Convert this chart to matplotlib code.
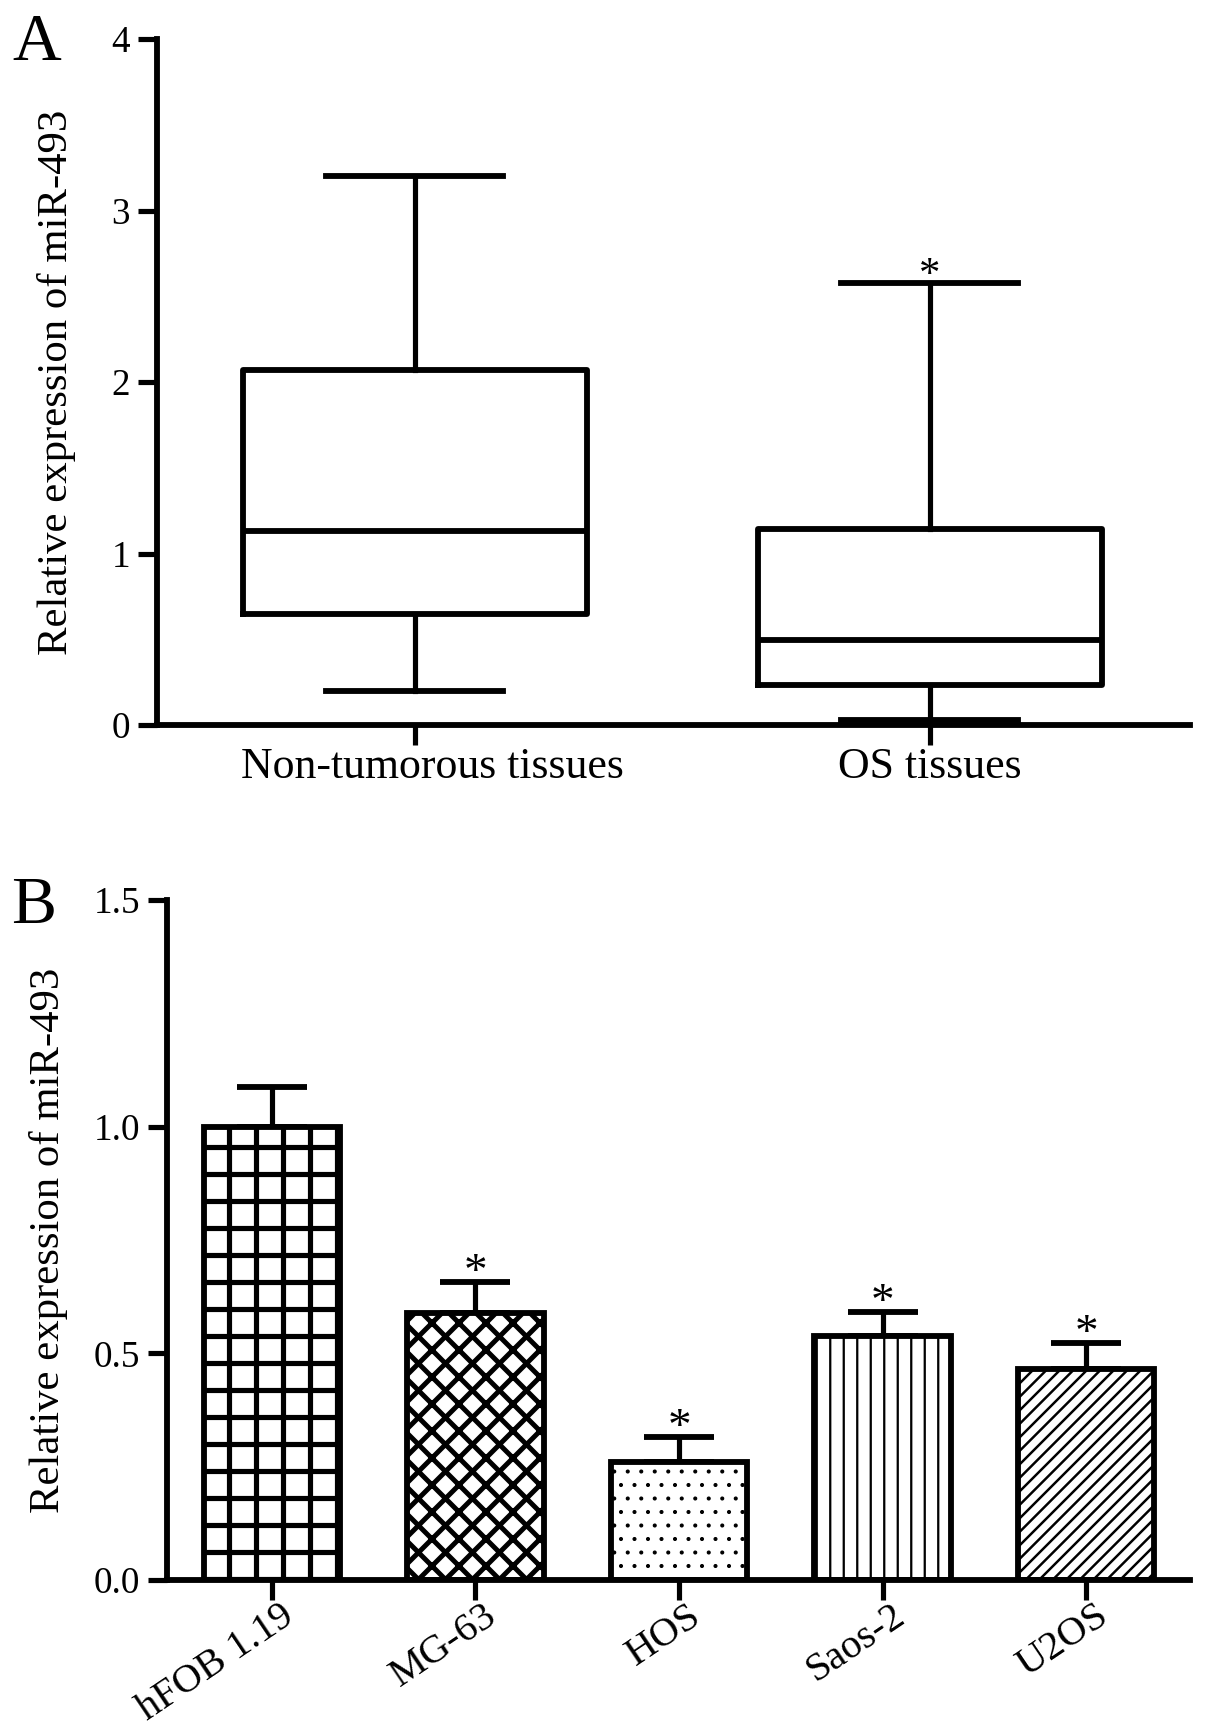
import matplotlib
matplotlib.use("Agg")
import matplotlib.pyplot as plt
import matplotlib.transforms as mtransforms

plt.rcParams['font.family'] = ['Liberation Serif', 'DejaVu Serif']

# panel A: box plot summaries
groups_a = ["Non-tumorous tissues", "OS tissues"]
whisker_low = [0.20, 0.03]
q1 = [0.65, 0.234]
median = [1.13, 0.495]
q3 = [2.07, 1.145]
whisker_high = [3.20, 2.575]
star_a = [False, True]

# panel B: bars with upper error
cells = ["hFOB 1.19", "MG-63", "HOS", "Saos-2", "U2OS"]
expr = [1.0, 0.59, 0.26, 0.539, 0.466]
err = [0.088, 0.068, 0.056, 0.053, 0.057]
star_b = [False, True, True, True, True]

hatches = ['+', 'xx', '..', '||', '////']
hatch_lw = [2.3, 2.2, 0.6, 1.0, 1.1]

DPI = 162
fig = plt.figure(figsize=(1205 / DPI, 1734 / DPI), dpi=DPI)

LW = 2.6

def style_axes(ax):
    for s in ['top', 'right']:
        ax.spines[s].set_visible(False)
    for s in ['left', 'bottom']:
        ax.spines[s].set_linewidth(LW)
    ax.tick_params(axis='both', direction='out', length=8.5, width=2.3, labelsize=16.5)

# ---------- A ----------
axA = fig.add_axes([157 / 1205, 1 - 725 / 1734, (1190 - 157) / 1205, (725 - 39) / 1734])
stats = []
for i in range(len(groups_a)):
    stats.append(dict(whislo=whisker_low[i], q1=q1[i], med=median[i],
                      q3=q3[i], whishi=whisker_high[i], fliers=[]))
lp = dict(color='black', linewidth=LW)
axA.bxp(stats, positions=[0, 1], widths=0.668, capwidths=0.344, showfliers=False,
        boxprops=lp, medianprops=lp, whiskerprops=dict(color='black', linewidth=2.3),
        capprops=lp)
axA.set_xlim(-0.5, 1.505)
axA.set_ylim(0, 4)
axA.set_yticks([0, 1, 2, 3, 4])
axA.set_xticks([0, 1])
axA.set_xticklabels(groups_a, fontsize=19.5)
style_axes(axA)
axA.tick_params(axis='x', labelsize=19.5, pad=1, length=9)
# first label sits a little right of its tick in the original
first = axA.get_xticklabels()[0]
first.set_transform(first.get_transform()
                    + mtransforms.ScaledTranslation(18 / DPI, 0, fig.dpi_scale_trans))
axA.set_ylabel("Relative expression of miR-493", fontsize=19)
axA.yaxis.set_label_coords(-0.078, 0.5)
for i in range(len(groups_a)):
    if star_a[i]:
        axA.annotate('*', (i, whisker_high[i]), xytext=(0, -1), textcoords='offset points',
                     ha='center', va='baseline', fontsize=19)

# ---------- B ----------
axB = fig.add_axes([167 / 1205, 1 - 1580 / 1734, (1190 - 167) / 1205, (1580 - 900) / 1734])
x = list(range(len(cells)))
for i in x:
    with plt.rc_context({'hatch.linewidth': hatch_lw[i]}):
        axB.bar(x[i], expr[i], width=0.67, color='white', edgecolor='black',
                linewidth=LW, hatch=hatches[i], zorder=2)
axB.errorbar(x, expr, yerr=[[0] * len(err), err], fmt='none', ecolor='black',
             elinewidth=2.3, capsize=15.5, capthick=LW, zorder=1)
for i in x:
    if star_b[i]:
        axB.annotate('*', (x[i], expr[i] + err[i]), xytext=(0, -1.5), textcoords='offset points',
                     ha='center', va='baseline', fontsize=21)
axB.set_xlim(-0.515, 4.51)
axB.set_ylim(0, 1.5)
axB.set_yticks([0.0, 0.5, 1.0, 1.5])
axB.set_yticklabels(['0.0', '0.5', '1.0', '1.5'])
axB.set_xticks(x)
axB.set_xticklabels(cells)
style_axes(axB)
axB.tick_params(axis='x', length=9, pad=0)
shift = mtransforms.ScaledTranslation(8 / DPI, 3 / DPI, fig.dpi_scale_trans)
for lab in axB.get_xticklabels():
    lab.set_rotation(34)
    lab.set_ha('right')
    lab.set_va('top')
    lab.set_rotation_mode('anchor')
    lab.set_fontsize(18)
    lab.set_transform(lab.get_transform() + shift)
axB.set_ylabel("Relative expression of miR-493", fontsize=19)
axB.yaxis.set_label_coords(-0.097, 0.5)

fig.text(12 / 1205, 1 - 60 / 1734, 'A', fontsize=30, va='baseline', ha='left')
fig.text(11 / 1205, 1 - 923 / 1734, 'B', fontsize=30, va='baseline', ha='left')

fig.savefig('out.png', dpi=DPI)
